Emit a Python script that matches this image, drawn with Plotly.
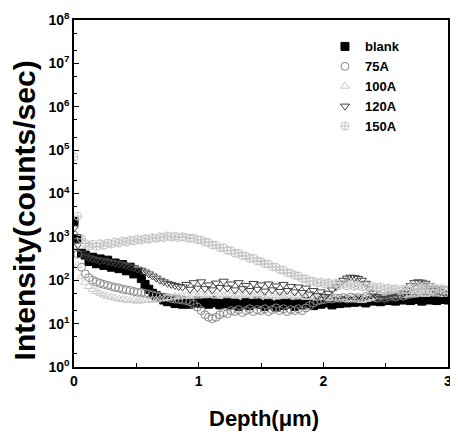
import plotly.graph_objects as go

depth = [0.00, 0.03, 0.06, 0.09, 0.12, 0.15, 0.18, 0.21, 0.24, 0.27,
         0.30, 0.33, 0.36, 0.39, 0.42, 0.45, 0.48, 0.51, 0.54, 0.57,
         0.60, 0.63, 0.66, 0.69, 0.72, 0.75, 0.78, 0.81, 0.84, 0.87,
         0.90, 0.93, 0.96, 0.99, 1.02, 1.05, 1.08, 1.11, 1.14, 1.17,
         1.20, 1.23, 1.26, 1.29, 1.32, 1.35, 1.38, 1.41, 1.44, 1.47,
         1.50, 1.53, 1.56, 1.59, 1.62, 1.65, 1.68, 1.71, 1.74, 1.77,
         1.80, 1.83, 1.86, 1.89, 1.92, 1.95, 1.98, 2.01, 2.04, 2.07,
         2.10, 2.13, 2.16, 2.19, 2.22, 2.25, 2.28, 2.31, 2.34, 2.37,
         2.40, 2.43, 2.46, 2.49, 2.52, 2.55, 2.58, 2.61, 2.64, 2.67,
         2.70, 2.73, 2.76, 2.79, 2.82, 2.85, 2.88, 2.91, 2.94, 2.97, 3.00]

blank = [2300, 900, 420, 380, 270, 340, 240, 310, 220, 290,
         200, 250, 185, 230, 165, 200, 140, 150, 110, 80,
         62, 50, 44, 40, 35, 32, 34, 29, 31, 28,
         31, 28, 30, 33, 29, 31, 28, 34, 30, 27,
         29, 32, 27, 30, 25, 28, 31, 26, 29, 33,
         28, 25, 30, 27, 24, 29, 26, 31, 28, 25,
         30, 27, 32, 29, 26, 31, 28, 33, 30, 27,
         32, 29, 34, 30, 33, 31, 35, 32, 30, 34,
         33, 36, 32, 35, 34, 37, 33, 36, 35, 38,
         34, 37, 36, 33, 38, 35, 37, 34, 36, 38, 35]

a75 = [1100, 400, 200, 140, 115, 100, 92, 85, 80, 76,
       72, 68, 66, 62, 60, 58, 55, 53, 52, 50,
       48, 46, 44, 42, 41, 40, 38, 37, 36, 35,
       34, 32, 28, 24, 20, 16, 14, 13, 14, 16,
       18, 17, 20, 19, 21, 18, 20, 22, 19, 21,
       20, 22, 19, 21, 23, 20, 22, 19, 21, 20,
       22, 20, 23, 26, 30, 33, 35, 36, 38, 37,
       39, 38, 40, 37, 41, 39, 40, 38, 42, 40,
       41, 39, 43, 40, 42, 44, 41, 45, 43, 46,
       48, 50, 52, 55, 53, 57, 55, 58, 56, 60, 58]

a100 = [600, 220, 120, 90, 72, 62, 55, 50, 46, 43,
        41, 39, 37, 36, 35, 34, 35, 33, 34, 35,
        34, 36, 35, 37, 38, 40, 39, 42, 41, 43,
        44, 42, 45, 43, 46, 44, 47, 45, 43, 46,
        44, 47, 45, 43, 46, 44, 48, 45, 43, 46,
        44, 42, 45, 43, 41, 44, 42, 45, 43, 41,
        44, 42, 40, 43, 41, 39, 42, 40, 38, 41,
        39, 37, 40, 36, 38, 35, 37, 34, 36, 38,
        40, 42, 45, 43, 47, 44, 46, 48, 45, 47,
        49, 46, 48, 50, 47, 49, 51, 48, 50, 47, 49]

a120 = [1600, 650, 420, 360, 330, 310, 300, 280, 290, 270,
        260, 250, 240, 230, 220, 205, 195, 180, 170, 155,
        140, 125, 112, 100, 92, 85, 80, 76, 72, 70,
        80, 62, 88, 66, 92, 64, 78, 60, 86, 68,
        95, 66, 82, 60, 88, 64, 76, 58, 84, 62,
        78, 56, 82, 60, 74, 55, 80, 58, 72, 54,
        70, 52, 66, 48, 58, 44, 54, 42, 50, 60,
        70, 85, 100, 112, 118, 115, 110, 100, 85, 65,
        50, 42, 38, 36, 38, 40, 42, 45, 50, 60,
        75, 88, 92, 90, 85, 75, 65, 58, 55, 52, 50]

a150 = [70000, 3000, 900, 700, 620, 680, 600, 700, 640, 720,
        680, 760, 720, 800, 760, 840, 800, 880, 840, 920,
        880, 960, 920, 1000, 960, 1050, 980, 1040, 960, 1010,
        960, 920, 940, 860, 850, 760, 740, 650, 640, 560,
        560, 490, 480, 420, 420, 370, 360, 320, 320, 280,
        270, 240, 235, 205, 200, 175, 170, 150, 145, 130,
        125, 110, 108, 96, 95, 86, 90, 82, 88, 80,
        85, 76, 82, 74, 80, 72, 76, 70, 74, 68,
        72, 66, 70, 62, 66, 60, 64, 58, 62, 60,
        68, 64, 72, 66, 74, 68, 70, 62, 64, 58, 60]

series_names = ["blank", "75A", "100A", "120A", "150A"]
series_values = [blank, a75, a100, a120, a150]
symbols = ["square", "circle-open", "triangle-up-open", "triangle-down-open", "circle-cross-open"]
colors = ["#000000", "#888888", "#c8c8c8", "#454545", "#c4c4c4"]

ytick_vals = [1, 10, 100, 1000, 1e4, 1e5, 1e6, 1e7, 1e8]
ytick_text = ["10<sup>%d</sup>" % i for i in range(9)]
xtick_vals = [0, 1, 2, 3]
xtick_text = ["0", "1", "2", "3"]

FONT = "Liberation Sans, Arial, sans-serif"

fig = go.Figure()
for name, vals, sym, col in zip(series_names, series_values, symbols, colors):
    fig.add_trace(go.Scatter(
        x=depth, y=vals, mode="markers", name=name,
        marker=dict(symbol=sym, size=8, color=col,
                    line=dict(color=col, width=1)),
    ))

# page body has an 8px default margin, so the figure is sized to fit the window
fig.update_layout(
    width=450, height=426,
    margin=dict(l=66, r=10, t=12, b=67),
    paper_bgcolor="white", plot_bgcolor="white",
    font=dict(family=FONT, color="black"),
    showlegend=True,
    legend=dict(x=0.671, y=0.967, xanchor="left", yanchor="top",
                bgcolor="rgba(0,0,0,0)",
                font=dict(family=FONT, size=13, weight="bold", color="black"),
                itemwidth=30, tracegroupgap=0),
    annotations=[
        dict(text="<b>Intensity(counts/sec)</b>", xref="paper", yref="paper",
             x=-0.133, y=0.452, xanchor="center", yanchor="middle",
             textangle=-90, showarrow=False,
             font=dict(family=FONT, size=30, color="black")),
        dict(text="<b>Depth(μm)</b>", xref="paper", yref="paper",
             x=0.508, y=-0.147, xanchor="center", yanchor="middle",
             showarrow=False,
             font=dict(family=FONT, size=22, color="black")),
    ],
)
fig.update_xaxes(
    range=[0, 3], tickvals=xtick_vals, ticktext=xtick_text, automargin=False,
    ticks="inside", ticklen=5, tickwidth=1, tickcolor="black",
    minor=dict(dtick=0.5, ticks="inside", ticklen=4, tickcolor="black", showgrid=False),
    showline=True, linecolor="black", linewidth=1.5, mirror=True,
    showgrid=False, zeroline=False,
    tickfont=dict(family=FONT, size=14, weight="bold"),
)
fig.update_yaxes(
    type="log", range=[0, 8], tickvals=ytick_vals, ticktext=ytick_text, automargin=False,
    ticks="inside", ticklen=5, tickwidth=1, tickcolor="black",
    minor=dict(ticks="inside", ticklen=3, tickcolor="black", showgrid=False),
    showline=True, linecolor="black", linewidth=1.5, mirror=True,
    showgrid=False, zeroline=False,
    tickfont=dict(family=FONT, size=14, weight="bold"),
)

fig.write_html("out.html")
